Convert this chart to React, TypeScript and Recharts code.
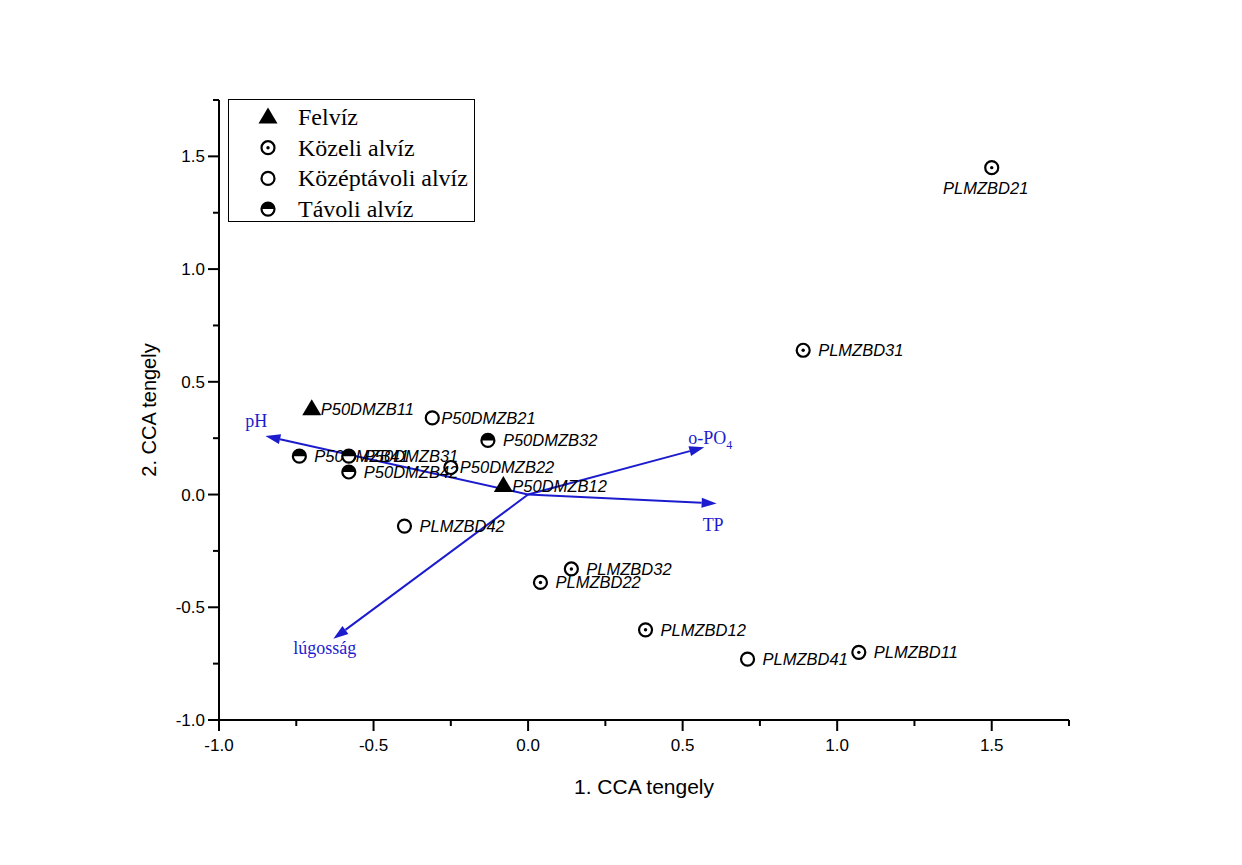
import { ScatterChart, Scatter, XAxis, YAxis, ReferenceLine, Legend, Label } from 'recharts';

// site scores
const FELVIZ = [
    { name: 'P50DMZB11', x: -0.70, y: 0.38 },
    { name: 'P50DMZB12', x: -0.08, y: 0.04 },
];
const KOZELI = [
    { name: 'PLMZBD21', x: 1.50, y: 1.45 },
    { name: 'PLMZBD31', x: 0.89, y: 0.64 },
    { name: 'PLMZBD32', x: 0.14, y: -0.33 },
    { name: 'PLMZBD22', x: 0.04, y: -0.39 },
    { name: 'PLMZBD12', x: 0.38, y: -0.60 },
    { name: 'PLMZBD11', x: 1.07, y: -0.70 },
];
const KOZEPTAVOLI = [
    { name: 'P50DMZB21', x: -0.31, y: 0.34 },
    { name: 'P50DMZB22', x: -0.25, y: 0.12 },
    { name: 'PLMZBD42', x: -0.40, y: -0.14 },
    { name: 'PLMZBD41', x: 0.71, y: -0.73 },
];
const TAVOLI = [
    { name: 'P50DMZB32', x: -0.13, y: 0.24 },
    { name: 'P50DMZB41', x: -0.74, y: 0.17 },
    { name: 'P50DMZB31', x: -0.58, y: 0.17 },
    { name: 'P50DMZB42', x: -0.58, y: 0.10 },
];

// environmental vectors (tip coordinates)
const ARROWS = [
    { name: 'pH', x: -0.85, y: 0.26 },
    { name: 'o-PO4', x: 0.57, y: 0.21 },
    { name: 'TP', x: 0.61, y: -0.04 },
    { name: 'lúgosság', x: -0.63, y: -0.64 },
];

const TICKS = [-1, -0.75, -0.5, -0.25, 0, 0.25, 0.5, 0.75, 1, 1.25, 1.5, 1.75];

const BLUE = '#1c1cce';
const SANS = '"Liberation Sans", Arial, sans-serif';
const SERIF = '"Liberation Serif", "Times New Roman", serif';

const ARROW_LABEL_POS: Record<string, [number, number]> = {
    'pH': [-20, -9],
    'o-PO4': [-16, -3],
    'TP': [-14, 27],
    'lúgosság': [-40, 15],
};
const TIGHT_LABELS = ['P50DMZB11', 'P50DMZB12', 'P50DMZB21', 'P50DMZB22'];
const BELOW_LABELS = ['PLMZBD21'];

type Kind = 'tri' | 'dot' | 'open' | 'half';

const isMajor = (v: number) => Math.abs(v * 2 - Math.round(v * 2)) < 1e-6;

function Mark({ kind, cx, cy }: { kind: Kind; cx: number; cy: number }) {
    const r = 6.5;
    if (kind === 'tri') {
        return <polygon points={`${cx},${cy - 9.5} ${cx - 9.5},${cy + 6.5} ${cx + 9.5},${cy + 6.5}`} fill="#000" />;
    }
    if (kind === 'half') {
        return (
            <g>
                <circle cx={cx} cy={cy} r={r} fill="#fff" stroke="#000" strokeWidth={2.2} />
                <path d={`M${cx - r},${cy} A${r},${r} 0 0 1 ${cx + r},${cy} Z`} fill="#000" />
            </g>
        );
    }
    return (
        <g>
            <circle cx={cx} cy={cy} r={r} fill="#fff" stroke="#000" strokeWidth={2.2} />
            {kind === 'dot' && <circle cx={cx} cy={cy} r={1.7} fill="#000" />}
        </g>
    );
}

const pointShape = (kind: Kind) => (p: any) => {
    const { cx, cy, payload } = p;
    const below = BELOW_LABELS.includes(payload.name);
    const dx = TIGHT_LABELS.includes(payload.name) ? 9 : 15;
    return (
        <g>
            <Mark kind={kind} cx={cx} cy={cy} />
            <text
                x={below ? cx - 6 : cx + dx}
                y={below ? cy + 26 : cy + 6}
                textAnchor={below ? 'middle' : 'start'}
                fontFamily={SANS}
                fontStyle="italic"
                fontSize={16.5}
                fill="#000"
            >
                {payload.name}
            </text>
        </g>
    );
};

const arrowShape = (name: string) => (p: any) => {
    const { x1, y1, x2, y2 } = p;
    const a = Math.atan2(y2 - y1, x2 - x1);
    const L = 15, W = 5;
    const bx = x2 - L * Math.cos(a);
    const by = y2 - L * Math.sin(a);
    const pts = `${x2},${y2} ${bx + W * Math.sin(a)},${by - W * Math.cos(a)} ${bx - W * Math.sin(a)},${by + W * Math.cos(a)}`;
    const [dx, dy] = ARROW_LABEL_POS[name];
    return (
        <g>
            <line x1={x1} y1={y1} x2={bx} y2={by} stroke={BLUE} strokeWidth={2} />
            <polygon points={pts} fill={BLUE} />
            <text x={x2 + dx} y={y2 + dy} fontFamily={SERIF} fontSize={18} fill={BLUE}>
                {name === 'o-PO4' ? (
                    <>
                        o-PO<tspan fontSize={12} dy={5}>4</tspan>
                    </>
                ) : name}
            </text>
        </g>
    );
};

const XTick = (p: any) => {
    const { x, y, payload } = p;
    const major = isMajor(payload.value);
    return (
        <g>
            <line x1={x} y1={y} x2={x} y2={y + (major ? 11 : 6)} stroke="#000" strokeWidth={2} />
            {major && (
                <text x={x} y={y + 31} textAnchor="middle" fontFamily={SANS} fontSize={17} fill="#000">
                    {payload.value.toFixed(1)}
                </text>
            )}
        </g>
    );
};

const YTick = (p: any) => {
    const { x, y, payload } = p;
    const major = isMajor(payload.value);
    return (
        <g>
            <line x1={x} y1={y} x2={x - (major ? 11 : 6)} y2={y} stroke="#000" strokeWidth={2} />
            {major && (
                <text x={x - 14} y={y + 6} textAnchor="end" fontFamily={SANS} fontSize={17} fill="#000">
                    {payload.value.toFixed(1)}
                </text>
            )}
        </g>
    );
};

const KIND_BY_NAME: Record<string, Kind> = {
    'Felvíz': 'tri',
    'Közeli alvíz': 'dot',
    'Középtávoli alvíz': 'open',
    'Távoli alvíz': 'half',
};

const LegendBox = (props: any) => {
    const items = (props.payload || []).filter((e: any) => KIND_BY_NAME[e.value]);
    return (
        <svg width={247} height={123} style={{ display: 'block' }}>
            <rect x={0.5} y={0.5} width={246} height={122} fill="#fff" stroke="#000" strokeWidth={1} />
            {items.map((e: any, i: number) => {
                const cy = 18 + i * 30.7;
                return (
                    <g key={e.value}>
                        <Mark kind={KIND_BY_NAME[e.value]} cx={40} cy={cy} />
                        <text x={70} y={cy + 8} fontFamily={SERIF} fontSize={24} fill="#000">
                            {e.value}
                        </text>
                    </g>
                );
            })}
        </svg>
    );
};

export default function App() {
    return (
        <div style={{ position: 'absolute', left: 0, top: 0, width: 1242, height: 865, background: '#fff' }}>
            <ScatterChart width={1242} height={865} margin={{ top: 100, right: 173, left: 139, bottom: 85 }}>
                <XAxis
                    type="number"
                    dataKey="x"
                    domain={[-1, 1.75]}
                    ticks={TICKS}
                    interval={0}
                    height={60}
                    tickSize={0}
                    tickMargin={0}
                    tickLine={false}
                    tick={XTick}
                    axisLine={{ stroke: '#000', strokeWidth: 2 }}
                    allowDataOverflow
                >
                    <Label
                        content={(lp: any) => {
                            const vb = lp.viewBox;
                            return (
                                <text x={vb.x + vb.width / 2} y={vb.y + 74} textAnchor="middle" fontFamily={SANS} fontSize={21} fill="#000">
                                    1. CCA tengely
                                </text>
                            );
                        }}
                    />
                </XAxis>
                <YAxis
                    type="number"
                    dataKey="y"
                    domain={[-1, 1.75]}
                    ticks={TICKS}
                    interval={0}
                    width={80}
                    tickSize={0}
                    tickMargin={0}
                    tickLine={false}
                    tick={YTick}
                    axisLine={{ stroke: '#000', strokeWidth: 2 }}
                    allowDataOverflow
                >
                    <Label
                        content={(lp: any) => {
                            const vb = lp.viewBox;
                            const cx = 156;
                            const cy = vb.y + vb.height / 2;
                            return (
                                <text
                                    x={cx}
                                    y={cy}
                                    textAnchor="middle"
                                    transform={`rotate(-90 ${cx} ${cy})`}
                                    fontFamily={SANS}
                                    fontSize={20}
                                    fill="#000"
                                >
                                    2. CCA tengely
                                </text>
                            );
                        }}
                    />
                </YAxis>
                {ARROWS.map((a) => (
                    <ReferenceLine
                        key={a.name}
                        segment={[{ x: 0, y: 0 }, { x: a.x, y: a.y }]}
                        ifOverflow="visible"
                        shape={arrowShape(a.name)}
                    />
                ))}
                <Scatter name="Felvíz" data={FELVIZ} shape={pointShape('tri')} isAnimationActive={false} />
                <Scatter name="Közeli alvíz" data={KOZELI} shape={pointShape('dot')} isAnimationActive={false} />
                <Scatter name="Középtávoli alvíz" data={KOZEPTAVOLI} shape={pointShape('open')} isAnimationActive={false} />
                <Scatter name="Távoli alvíz" data={TAVOLI} shape={pointShape('half')} isAnimationActive={false} />
                <Legend
                    layout="vertical"
                    align="center"
                    verticalAlign="middle"
                    content={LegendBox}
                    wrapperStyle={{ position: 'absolute', left: 228, top: 99, width: 247, height: 123 }}
                />
            </ScatterChart>
        </div>
    );
}
